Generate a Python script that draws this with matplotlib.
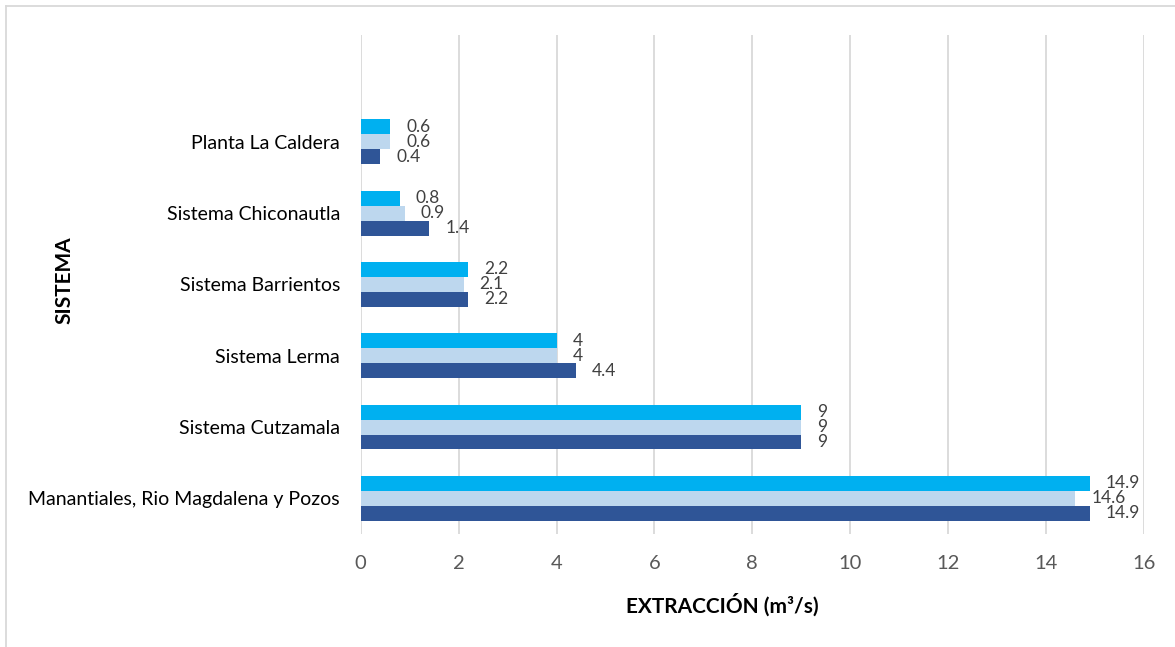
import numpy as np
import matplotlib
matplotlib.use('Agg')
import matplotlib.pyplot as plt
from matplotlib.lines import Line2D

plt.rcParams['font.family'] = ['Lato', 'DejaVu Sans']

# systems listed bottom to top
sistemas = ['Manantiales, Rio Magdalena y Pozos', 'Sistema Cutzamala', 'Sistema Lerma',
            'Sistema Barrientos', 'Sistema Chiconautla', 'Planta La Caldera']
serie_a = [14.9, 9, 4.4, 2.2, 1.4, 0.4]   # dark, lowest bar of each group
serie_b = [14.6, 9, 4, 2.1, 0.9, 0.6]     # light, middle bar
serie_c = [14.9, 9, 4, 2.2, 0.8, 0.6]     # cyan, top bar
xticks = [0, 2, 4, 6, 8, 10, 12, 14, 16]

colores = ['#2F5597', '#BDD7EE', '#00B0F0']

fig = plt.figure(figsize=(11.75, 6.47), dpi=100)
ax = fig.add_axes([0.307, 0.1747, 0.6666, 0.7713])

y = np.arange(len(sistemas))
h = 0.21
for k, (vals, col) in enumerate(zip([serie_a, serie_b, serie_c], colores)):
    pos = y + (k - 1) * h
    ax.barh(pos, vals, height=h, color=col, zorder=3)
    for p, v in zip(pos, vals):
        ax.annotate(f'{v:g}', xy=(v, p), xytext=(11.5, 0), textcoords='offset points',
                    ha='left', va='center', fontsize=12.5, color='#404040')

ax.set_xlim(0, 16)
ax.set_ylim(-0.5, 6.5)
ax.set_xticks(xticks)
ax.set_xticklabels([str(t) for t in xticks], fontsize=14.5, color='#595959')
ax.set_yticks(y)
ax.set_yticklabels(sistemas, fontsize=14, color='#000000')
ax.tick_params(axis='both', length=0)
ax.tick_params(axis='x', pad=15)
ax.tick_params(axis='y', pad=15)
ax.grid(axis='x', color='#D9D9D9', linewidth=1.3, zorder=0)
for s in ax.spines.values():
    s.set_visible(False)

fig.text(0.6145, 0.065, 'EXTRACCIÓN (m³/s)', ha='center', va='center',
         fontsize=15, fontweight='bold', color='#000000')
fig.text(0.055, 0.567, 'SISTEMA', ha='center', va='center', rotation=90,
         fontsize=15, fontweight='bold', color='#000000')

# chart frame, only the left and top edges fall inside the image
fig.add_artist(Line2D([0.0055, 0.0055], [0, 0.99], transform=fig.transFigure,
                      color='#D9D9D9', linewidth=1.3))
fig.add_artist(Line2D([0.0055, 1], [0.99, 0.99], transform=fig.transFigure,
                      color='#D9D9D9', linewidth=1.3))

fig.savefig('out.png', dpi=100)
